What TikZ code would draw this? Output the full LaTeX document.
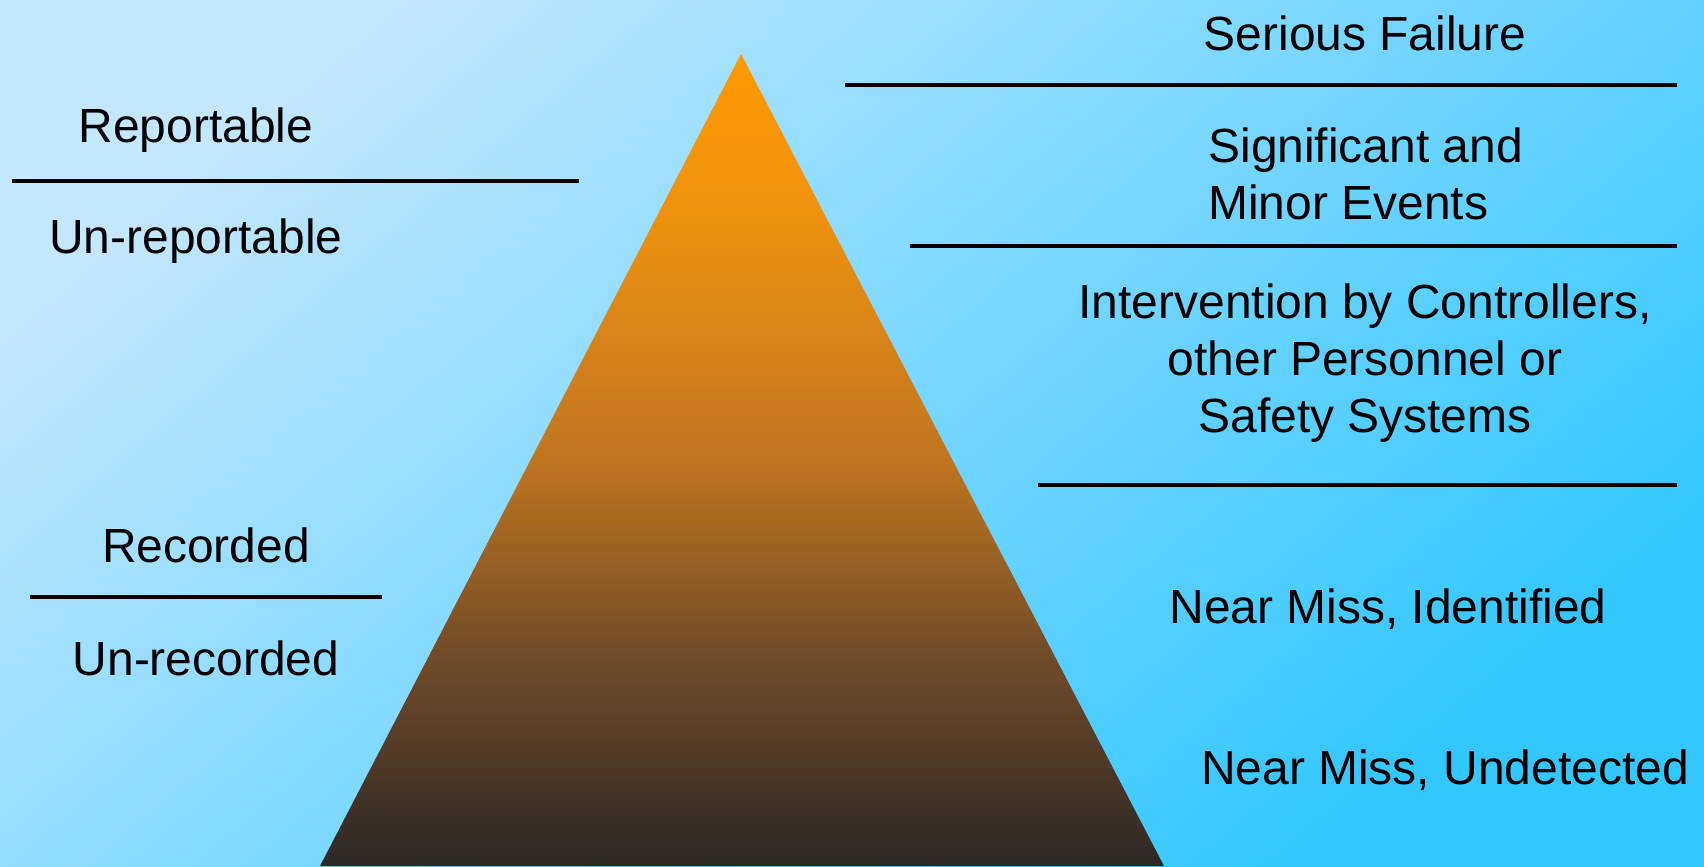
\documentclass[tikz,border=0pt]{standalone}
\usepackage{fontspec}
\setmainfont{Liberation Sans}
\definecolor{skylight}{HTML}{C2E7FF}
\definecolor{skydark}{HTML}{32C7FF}
\definecolor{peaktop}{HTML}{FF9900}
\definecolor{peakhigh}{HTML}{F0920F}
\definecolor{peakmid}{HTML}{BF7520}
\definecolor{peaklow}{HTML}{6F4A28}
\definecolor{peakbase}{HTML}{2B2826}
\pgfdeclareverticalshading{peakshade}{100bp}{color(0bp)=(peakbase); color(25bp)=(peakbase);
  color(37.5bp)=(peaklow); color(50bp)=(peakmid); color(65.5bp)=(peakhigh);
  color(75bp)=(peaktop); color(100bp)=(peaktop)}
\tikzset{lbl/.style={font=\fontsize{27.3}{32.6}\selectfont, inner sep=0pt, align=center},
  sep/.style={line width=2pt}}

\begin{document}
\begin{tikzpicture}[x=0.02cm,y=-0.02cm]
\useasboundingbox (0,0) rectangle (1704,866);
\shade[shading=axis, top color=skylight, bottom color=skydark, shading angle=40] (0,0) rectangle (1704,866);
\begin{scope}
%pyramid
\shade[shading=peakshade] (741,54) -- (1164,866) -- (320,866) -- cycle;
%right side
\draw[sep] (845,85) -- (1677,85);
\draw[sep] (910,246) -- (1677,246);
\draw[sep] (1038,485) -- (1677,485);
\node[lbl] (serious) at (1365,33) {Serious Failure};
\node[lbl, align=left, anchor=west] (signif) at (1208,174) {Significant and\\Minor Events};
\node[lbl] (interv) at (1365,363) {Intervention by Controllers,\\other Personnel or\\Safety Systems};
\node[lbl] (nmident) at (1388,609) {Near Miss, Identified};
\node[lbl] (nmundet) at (1445,770) {Near Miss, Undetected};
%left side
\draw[sep] (12,181) -- (579,181);
\draw[sep] (30,597) -- (382,597);
\node[lbl] (report) at (196,130) {Reportable};
\node[lbl] (unreport) at (196,241) {Un-reportable};
\node[lbl] (record) at (206,545) {Recorded};
\node[lbl] (unrecord) at (206,658) {Un-recorded};
\end{scope}
\end{tikzpicture}
\end{document}
